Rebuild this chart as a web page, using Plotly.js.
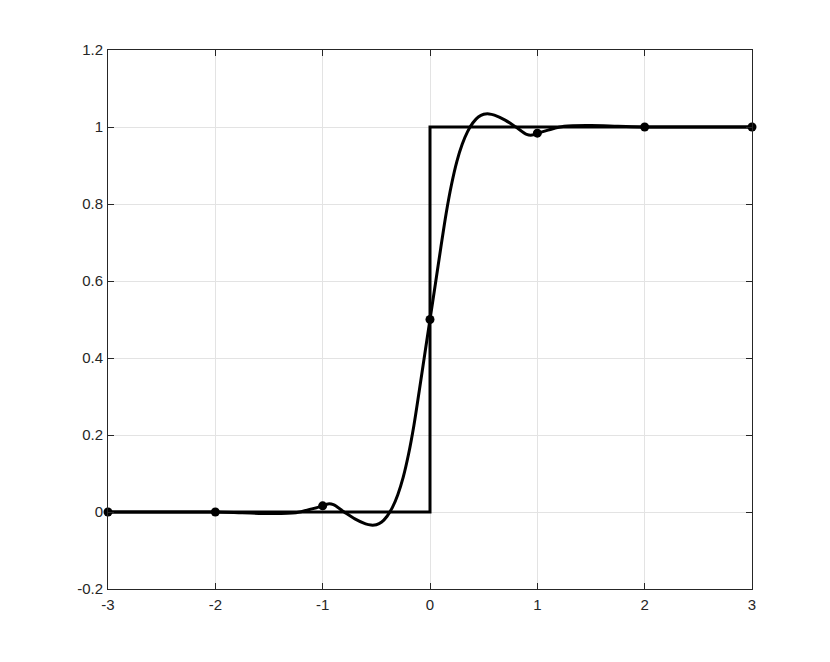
<!DOCTYPE html>
<html>
<head>
<meta charset="utf-8">
<script src="https://cdn.plot.ly/plotly-3.0.1.min.js"></script>
<style>html,body{margin:0;padding:0;background:#fff;}#chart{width:830px;height:662px;}</style>
</head>
<body>
<div id="chart"></div>
<script>
// Step function
var stepX = [-3, 0, 0, 3];
var stepY = [0, 0, 1, 1];

// Sample points (markers)
var sampleX = [-3, -2, -1, 0, 1, 2, 3];
var sampleY = [0, 0, 0.016, 0.5, 0.984, 1, 1];

// Smooth reconstruction curve
var curveX = [-3, -2.5, -2, -1.75, -1.5, -1.25, -1.1, -1, -0.95, -0.9, -0.8, -0.7, -0.6, -0.55, -0.5, -0.45, -0.4, -0.35, -0.3, -0.25, -0.2, -0.15, -0.1, -0.05, 0,
              0.05, 0.1, 0.15, 0.2, 0.25, 0.3, 0.35, 0.4, 0.45, 0.5, 0.55, 0.6, 0.7, 0.8, 0.9, 0.95, 1, 1.1, 1.25, 1.5, 1.75, 2, 2.5, 3];
var curveY = [0, 0, 0, -0.002, -0.004, -0.002, 0.008, 0.016, 0.021, 0.019, 0.0, -0.018, -0.031, -0.034, -0.033, -0.026, -0.011, 0.012, 0.045, 0.09, 0.15, 0.225, 0.315, 0.408, 0.5,
              0.592, 0.685, 0.775, 0.85, 0.91, 0.955, 0.988, 1.011, 1.026, 1.033, 1.034, 1.031, 1.018, 1.0, 0.981, 0.979, 0.984, 0.992, 1.002, 1.004, 1.002, 1, 1, 1];

var xTicks = [-3, -2, -1, 0, 1, 2, 3];
var xTickText = ['-3', '-2', '-1', '0', '1', '2', '3'];
var yTicks = [-0.2, 0, 0.2, 0.4, 0.6, 0.8, 1, 1.2];
var yTickText = ['-0.2', '0', '0.2', '0.4', '0.6', '0.8', '1', '1.2'];

var traces = [
  {x: stepX, y: stepY, mode: 'lines', line: {color: '#000', width: 3}, hoverinfo: 'skip'},
  {x: curveX, y: curveY, mode: 'lines', line: {color: '#000', width: 3, shape: 'spline', smoothing: 0.9}, hoverinfo: 'skip'},
  {x: sampleX, y: sampleY, mode: 'markers', marker: {color: '#000', size: 9}, cliponaxis: false, hoverinfo: 'skip'}
];

var axisCommon = {
  showgrid: true, gridcolor: '#e3e3e3', gridwidth: 1,
  zeroline: false, showline: true, linecolor: '#262626', linewidth: 1,
  mirror: 'ticks', ticks: 'inside', ticklen: 6, tickcolor: '#262626', tickwidth: 1,
  tickfont: {family: 'Liberation Sans, Arial, sans-serif', size: 15, color: '#262626'},
  tickmode: 'array', fixedrange: true
};

var layout = {
  width: 830, height: 662,
  margin: {l: 108, r: 78, t: 50, b: 73},
  paper_bgcolor: '#fff', plot_bgcolor: '#fff',
  showlegend: false,
  xaxis: Object.assign({}, axisCommon, {range: [-3, 3], tickvals: xTicks, ticktext: xTickText, ticklabelstandoff: 2}),
  yaxis: Object.assign({}, axisCommon, {range: [-0.2, 1.2], tickvals: yTicks, ticktext: yTickText, ticklabelstandoff: 1})
};

Plotly.newPlot('chart', traces, layout, {staticPlot: true, displayModeBar: false});
</script>
</body>
</html>
